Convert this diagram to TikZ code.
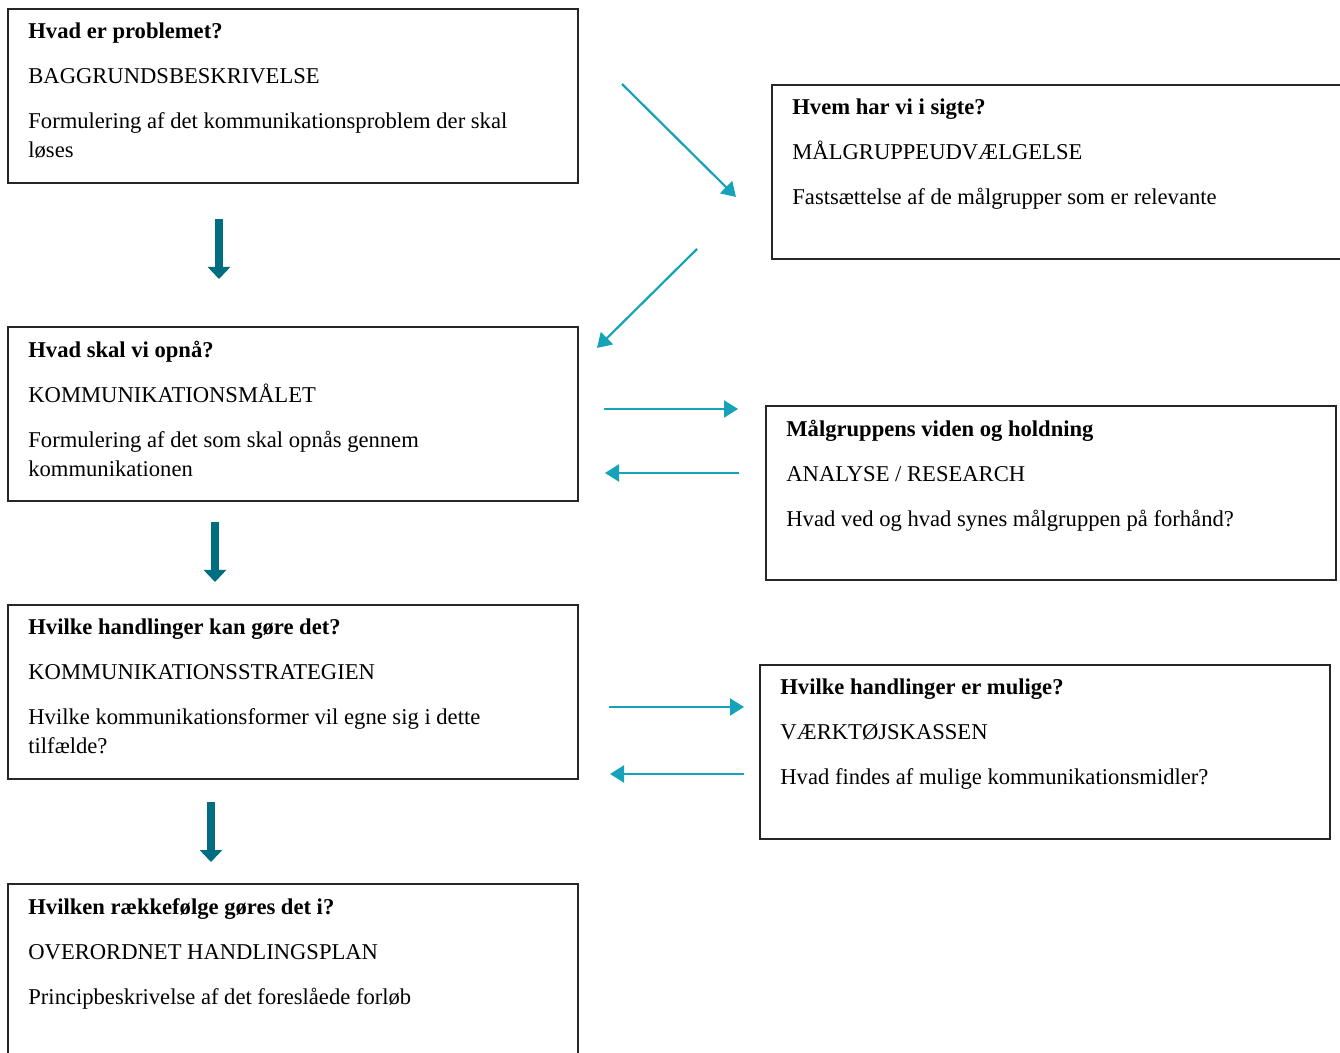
\documentclass[tikz,border=0pt]{standalone}
\usepackage{fontspec}
\setmainfont{Liberation Serif}
\usetikzlibrary{arrows.meta,positioning}
\definecolor{lightteal}{RGB}{22,162,184}
\definecolor{darkteal}{RGB}{0,110,128}
\tikzset{
  box/.style={draw=black!85, line width=1pt, rectangle, minimum width=285pt, minimum height=87pt, anchor=north west, inner sep=0pt},
  txt/.style={anchor=north west, align=left, inner sep=0pt, font=\fontsize{11.3}{14.5}\selectfont},
  bigarr/.style={darkteal, line width=4pt, -{Triangle[length=6pt,width=11pt]}},
  arr/.style={lightteal, line width=1.1pt, -{Triangle[length=7pt,width=8.5pt]}},
}
\begin{document}
\begin{tikzpicture}[x=0.5pt,y=-0.5pt]
\useasboundingbox (0,0) rectangle (1340,1053);
% left column
\node[box] (prob) at (7,8) {};
\node[box] (maal) at (7,326) {};
\node[box] (strat) at (7,604) {};
\node[box] (plan) at (7,883) {};
% right column
\node[box, minimum width=288pt] (grp) at (771,84) {};
\node[box] (ana) at (765,405) {};
\node[box] (tool) at (759,664) {};
% texts
\node[txt] (prob-t) at ([shift={(10.5pt,-7.4pt)}]prob.north west) {\textbf{Hvad er problemet?}\\[8pt] BAGGRUNDSBESKRIVELSE\\[8pt] Formulering af det kommunikationsproblem der skal\\ løses};
\node[txt] (maal-t) at ([shift={(10.5pt,-7.4pt)}]maal.north west) {\textbf{Hvad skal vi opnå?}\\[8pt] KOMMUNIKATIONSMÅLET\\[8pt] Formulering af det som skal opnås gennem\\ kommunikationen};
\node[txt] (strat-t) at ([shift={(10.5pt,-7.4pt)}]strat.north west) {\textbf{Hvilke handlinger kan gøre det?}\\[8pt] KOMMUNIKATIONSSTRATEGIEN\\[8pt] Hvilke kommunikationsformer vil egne sig i dette\\ tilfælde?};
\node[txt] (plan-t) at ([shift={(10.5pt,-7.4pt)}]plan.north west) {\textbf{Hvilken rækkefølge gøres det i?}\\[8pt] OVERORDNET HANDLINGSPLAN\\[8pt] Principbeskrivelse af det foreslåede forløb};
\node[txt] (grp-t) at ([shift={(10.5pt,-7.4pt)}]grp.north west) {\textbf{Hvem har vi i sigte?}\\[8pt] MÅLGRUPPEUDVÆLGELSE\\[8pt] Fastsættelse af de målgrupper som er relevante};
\node[txt] (ana-t) at ([shift={(10.5pt,-7.4pt)}]ana.north west) {\textbf{Målgruppens viden og holdning}\\[8pt] ANALYSE / RESEARCH\\[8pt] Hvad ved og hvad synes målgruppen på forhånd?};
\node[txt] (tool-t) at ([shift={(10.5pt,-7.4pt)}]tool.north west) {\textbf{Hvilke handlinger er mulige?}\\[8pt] VÆRKTØJSKASSEN\\[8pt] Hvad findes af mulige kommunikationsmidler?};
% arrow ends
\coordinate (d1a) at (219,219); \coordinate (d1b) at (219,279);
\coordinate (d2a) at (215,522); \coordinate (d2b) at (215,582);
\coordinate (d3a) at (211,802); \coordinate (d3b) at (211,862);
\coordinate (g1a) at (622,84);  \coordinate (g1b) at (736,197);
\coordinate (g2a) at (697,249); \coordinate (g2b) at (597,348);
\coordinate (a1a) at (604,409); \coordinate (a1b) at (738,409);
\coordinate (a2a) at (739,473); \coordinate (a2b) at (605,473);
\coordinate (t1a) at (609,707); \coordinate (t1b) at (744,707);
\coordinate (t2a) at (744,774); \coordinate (t2b) at (610,774);
% arrows
\draw[bigarr] (d1a) -- (d1b);
\draw[bigarr] (d2a) -- (d2b);
\draw[bigarr] (d3a) -- (d3b);
\draw[arr] (g1a) -- (g1b);
\draw[arr] (g2a) -- (g2b);
\draw[arr] (a1a) -- (a1b);
\draw[arr] (a2a) -- (a2b);
\draw[arr] (t1a) -- (t1b);
\draw[arr] (t2a) -- (t2b);
\end{tikzpicture}
\end{document}
